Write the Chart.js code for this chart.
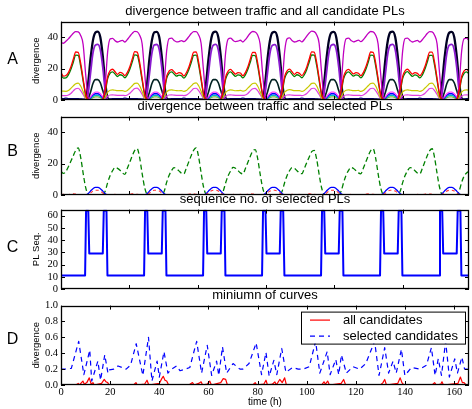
<!DOCTYPE html>
<html><head><meta charset="utf-8">
<script src="https://cdn.jsdelivr.net/npm/chart.js@4.4.1/dist/chart.umd.min.js"></script>
<style>
body{margin:0;background:#fff;width:472px;height:409px;position:relative;overflow:hidden;font-family:"Liberation Sans",Arial,sans-serif}
canvas{position:absolute;left:0}
.lbl{position:absolute;left:2px;width:21px;text-align:center;font-size:16px;line-height:16px;color:#000}
</style></head><body>
<canvas id="cA"></canvas><canvas id="cB"></canvas><canvas id="cC"></canvas><canvas id="cD"></canvas>
<div class="lbl" style="top:51px">A</div>
<div class="lbl" style="top:143px">B</div>
<div class="lbl" style="top:239px">C</div>
<div class="lbl" style="top:331px">D</div>
<script>
// ---------------- DATA (hourly, hour 0 .. 166) ----------------
const titleA = 'divergence between traffic and all candidate PLs';
const titleB = 'divergence between traffic and selected PLs';
const titleC = 'sequence no. of selected PLs';
const titleD = 'miniumn of curves';

// Panel A: divergence between traffic and all candidate PLs
const aMagenta = [
36.6,36.2,37.5,39,40.8,42.6,43.6,43.4,41.2,35.5,17,2,0,0,0,0,0,1,10,31,39,39.3,37.8,37,
37.6,38,37,38.6,40.6,42.5,43.8,43.5,41.3,36,18,2,0,0,0,0,0,1,11,31.5,39.2,39.4,38,37.1,
37.3,37.9,37.2,38.4,40.4,42.4,43.6,43.6,41.5,36.2,18.5,2,0,0,0,0,0,1,10,30.5,38.8,39.5,38.1,37.2,
37.5,38.1,37,38.5,40.5,42.6,43.7,43.4,41.4,35.8,17.5,2,0,0,0,0,0,1.2,10.5,31,39.1,39.6,37.9,37,
37.4,38,37.1,38.6,40.7,42.7,43.9,43.6,41.6,36.3,18,2,0,0,0,0,0,1,10,30.8,39,39.4,38,37.1,
37.6,38.2,37.2,38.5,40.5,42.5,43.7,43.5,41.5,36,17.8,2,0,0,0,0,0,1.1,10.3,31.2,39.2,39.5,38,37,
37.5,38,37,38.4,40.4,42.4,43.6,43.4,41.3,35.9,17.6,2,0,0,0,0,0,1,10,31,39,39.4,38];
const aRed = [
17.4,15.2,15.6,17.5,21,26,30.6,30.4,23.5,13.5,4,0.3,0,0,0,0,0,0.5,6,15,18.7,19.6,18,16.4,
17.6,17.1,15.6,17.6,21.2,26.2,30.8,30.5,24,14,4.2,0.3,0,0,0,0,0,0.5,6.2,15.2,18.5,19.4,18.1,16.6,
17.4,17,15.4,17.4,20.9,25.8,30.5,30.6,24.2,14.2,4,0.3,0,0,0,0,0,0.5,5.8,14.8,18.4,19.5,17.9,16.5,
17.5,17.2,15.5,17.5,21,26,30.4,30.3,23.8,13.8,3.9,0.3,0,0,0,0,0,0.6,6,15.1,18.6,19.7,18,16.4,
17.6,17,15.6,17.6,21.1,26.1,30.7,30.6,24.1,14.1,4.1,0.3,0,0,0,0,0,0.5,6.1,15,18.5,19.5,18.1,16.6,
17.5,17.1,15.5,17.5,21,25.9,30.6,30.4,23.9,13.9,4,0.3,0,0,0,0,0,0.5,6,15.1,18.6,19.6,18,16.5,
17.5,17,15.5,17.4,21,26,30.5,30.5,24,14,4,0.3,0,0,0,0,0,0.5,6,15,18.5,19.5,18];
const aGreen = [
15.9,14,14.1,16,19.4,24.1,28.6,28.4,21.7,12.2,3.5,0.3,0,0,0,0,0,0.4,5,13.6,17.1,18,16.5,15,
16.1,15.6,14.2,16.1,19.6,24.3,28.8,28.5,22.1,12.6,3.7,0.3,0,0,0,0,0,0.4,5.2,13.8,17,17.9,16.6,15.2,
15.9,15.5,14,15.9,19.3,23.9,28.5,28.6,22.3,12.8,3.5,0.3,0,0,0,0,0,0.4,4.8,13.4,16.9,18,16.4,15.1,
16,15.7,14.1,16,19.4,24.1,28.4,28.3,21.9,12.4,3.4,0.3,0,0,0,0,0,0.5,5,13.7,17.1,18.2,16.5,15,
16.1,15.5,14.2,16.1,19.5,24.2,28.7,28.6,22.2,12.7,3.6,0.3,0,0,0,0,0,0.4,5.1,13.6,17,18,16.6,15.2,
16,15.6,14.1,16,19.4,24,28.6,28.4,22,12.5,3.5,0.3,0,0,0,0,0,0.4,5,13.7,17.1,18.1,16.5,15.1,
16,15.5,14.1,15.9,19.4,24.1,28.5,28.5,22.1,12.6,3.5,0.3,0,0,0,0,0,0.4,5,13.6,17,18,16.5];
const aYellow = [
5.8,5.6,5.5,6,7.4,9,10.4,10.7,8.9,5.4,1.5,0.2,0,0,0,0,0,0.2,2,5,6.2,6.5,6.2,6,
6,6,5.5,6.1,7.5,9.1,10.6,10.8,9,5.5,1.5,0.2,0,0,0,0,0,0.2,2.1,5.1,6.3,6.5,6.2,6,
5.9,6,5.5,6,7.5,9,10.5,10.9,9.1,5.6,1.6,0.2,0,0,0,0,0,0.2,1.9,4.9,6.1,6.4,6.2,5.9,
6,6.1,5.6,6,7.6,9.1,10.5,10.7,8.9,5.4,1.4,0.2,0,0,0,0,0,0.2,2,5,6.2,6.6,6.3,6,
6,6,5.5,6.1,7.5,9,10.6,10.8,9,5.5,1.5,0.2,0,0,0,0,0,0.2,2,5,6.2,6.5,6.2,6,
6,6.1,5.5,6,7.5,9.1,10.5,10.8,9,5.5,1.5,0.2,0,0,0,0,0,0.2,2,5.1,6.2,6.5,6.2,6,
6,6,5.5,6,7.5,9,10.5,10.8,9,5.5,1.5,0.2,0,0,0,0,0,0.2,2,5,6.2,6.5,6.2];
const aPinkLow = [
2.9,2.8,2.8,3.2,4.2,5.8,7.2,7.5,6,3.5,1,0.1,0,0,0,0,0,0.1,1,2.6,3.2,3.3,3.1,3,
3,3,2.8,3.2,4.3,5.9,7.3,7.6,6.1,3.6,1,0.1,0,0,0,0,0,0.1,1,2.6,3.2,3.3,3.1,3,
3,3,2.8,3.1,4.2,5.8,7.3,7.5,6,3.5,1,0.1,0,0,0,0,0,0.1,1,2.6,3.2,3.3,3.1,3,
3,3,2.9,3.2,4.2,5.8,7.2,7.4,5.9,3.5,1,0.1,0,0,0,0,0,0.1,1,2.6,3.2,3.3,3.1,3,
3,3,2.8,3.2,4.2,5.8,7.3,7.5,6,3.5,1,0.1,0,0,0,0,0,0.1,1,2.6,3.2,3.3,3.1,3,
3,3,2.8,3.2,4.3,5.9,7.3,7.5,6,3.5,1,0.1,0,0,0,0,0,0.1,1,2.6,3.2,3.3,3.1,3,
3,3,2.8,3.2,4.2,5.8,7.3,7.5,6,3.5,1,0.1,0,0,0,0,0,0.1,1,2.6,3.2,3.3,3.1];
const aBlack = [
0,0,0,0,0,0,0,0,0,0,0.3,10,26,38,43,43.6,40,28,11,1,0,0,0,0,
0,0,0,0,0,0,0,0,0,0,0.3,10,26.5,38.2,43.2,43.5,39.8,27.6,10.8,1,0,0,0,0,
0,0,0,0,0,0,0,0,0,0,0.3,10.2,26,38,43.1,43.6,40,28,11,1,0,0,0,0,
0,0,0,0,0,0,0,0,0,0,0.3,9.8,25.8,37.8,43,43.5,40.2,28.2,11.2,1,0,0,0,0,
0,0,0,0,0,0,0,0,0,0,0.3,10,26,38,43,43.4,39.9,27.9,11,1,0,0,0,0,
0,0,0,0,0,0,0,0,0,0,0.3,10,26.2,38.1,43.2,43.6,40,28,11,1,0,0,0,0,
0,0,0,0,0,0,0,0,0,0,0.3,10,26,38,43,43.5,40,28,11,1,0,0,0];
const aPurple = [
0,0,0,0,0,0,0,0,0,0,0,4,17,30,35,35.5,32,21,6,0.3,0,0,0,0,
0,0,0,0,0,0,0,0,0,0,0,4,17,30,35.2,35.4,32,21,6,0.3,0,0,0,0,
0,0,0,0,0,0,0,0,0,0,0,4,17,30,35,35.5,32,21,6,0.3,0,0,0,0,
0,0,0,0,0,0,0,0,0,0,0,4,17,29.8,34.8,35.3,32,21,6,0.3,0,0,0,0,
0,0,0,0,0,0,0,0,0,0,0,4,17,30,35,35.4,32,21,6,0.3,0,0,0,0,
0,0,0,0,0,0,0,0,0,0,0,4,17,30,35.1,35.5,32,21,6,0.3,0,0,0,0,
0,0,0,0,0,0,0,0,0,0,0,4,17,30,35,35.5,32,21,6,0.3,0,0,0];
const aDark = [
0,0,0,0,0,0,0,0,0,0,0,1,5,10.5,13,13,11,6,1.5,0,0,0,0,0,
0,0,0,0,0,0,0,0,0,0,0,1,5,10.5,13,13,11,6,1.5,0,0,0,0,0,
0,0,0,0,0,0,0,0,0,0,0,1,5,10.5,13,13,11,6,1.5,0,0,0,0,0,
0,0,0,0,0,0,0,0,0,0,0,1,5,10.5,13,13,11,6,1.5,0,0,0,0,0,
0,0,0,0,0,0,0,0,0,0,0,1,5,10.5,13,13,11,6,1.5,0,0,0,0,0,
0,0,0,0,0,0,0,0,0,0,0,1,5,10.5,13,13,11,6,1.5,0,0,0,0,0,
0,0,0,0,0,0,0,0,0,0,0,1,5,10.5,13,13,11,6,1.5,0,0,0,0];
const aPink = [
0,0,0,0,0,0,0,0,0,0,0,0.5,2,4,5,5,4,2,0.5,0,0,0,0,0,
0,0,0,0,0,0,0,0,0,0,0,0.5,2,4,5,5,4,2,0.5,0,0,0,0,0,
0,0,0,0,0,0,0,0,0,0,0,0.5,2,4,5,5,4,2,0.5,0,0,0,0,0,
0,0,0,0,0,0,0,0,0,0,0,0.5,2,4,5,5,4,2,0.5,0,0,0,0,0,
0,0,0,0,0,0,0,0,0,0,0,0.5,2,4,5,5,4,2,0.5,0,0,0,0,0,
0,0,0,0,0,0,0,0,0,0,0,0.5,2,4,5,5,4,2,0.5,0,0,0,0,0,
0,0,0,0,0,0,0,0,0,0,0,0.5,2,4,5,5,4,2,0.5,0,0,0,0];
const aBlue = [
0,0,0,0,0,0,0,0,0,0,0,0.2,1.5,3,4,4,3,1.5,0.3,0,0,0,0,0,
0,0,0,0,0,0,0,0,0,0,0,0.2,1.5,3,4,4,3,1.5,0.3,0,0,0,0,0,
0,0,0,0,0,0,0,0,0,0,0,0.2,1.5,3,4,4,3,1.5,0.3,0,0,0,0,0,
0,0,0,0,0,0,0,0,0,0,0,0.2,1.5,3,4,4,3,1.5,0.3,0,0,0,0,0,
0,0,0,0,0,0,0,0,0,0,0,0.2,1.5,3,4,4,3,1.5,0.3,0,0,0,0,0,
0,0,0,0,0,0,0,0,0,0,0,0.2,1.5,3,4,4,3,1.5,0.3,0,0,0,0,0,
0,0,0,0,0,0,0,0,0,0,0,0.2,1.5,3,4,4,3,1.5,0.3,0,0,0,0];
const aCyan = [
0,0,0,0,0,0,0,0,0,0,0,0.1,1,2.2,3,3,2.2,1,0.2,0,0,0,0,0,
0,0,0,0,0,0,0,0,0,0,0,0.1,1,2.2,3,3,2.2,1,0.2,0,0,0,0,0,
0,0,0,0,0,0,0,0,0,0,0,0.1,1,2.2,3,3,2.2,1,0.2,0,0,0,0,0,
0,0,0,0,0,0,0,0,0,0,0,0.1,1,2.2,3,3,2.2,1,0.2,0,0,0,0,0,
0,0,0,0,0,0,0,0,0,0,0,0.1,1,2.2,3,3,2.2,1,0.2,0,0,0,0,0,
0,0,0,0,0,0,0,0,0,0,0,0.1,1,2.2,3,3,2.2,1,0.2,0,0,0,0,0,
0,0,0,0,0,0,0,0,0,0,0,0.1,1,2.2,3,3,2.2,1,0.2,0,0,0,0];
const aOlive = [
0,0,0,0,0,0,0,0,0,0,0,0,0.6,1.5,2,2,1.5,0.6,0,0,0,0,0,0,
0,0,0,0,0,0,0,0,0,0,0,0,0.6,1.5,2,2,1.5,0.6,0,0,0,0,0,0,
0,0,0,0,0,0,0,0,0,0,0,0,0.6,1.5,2,2,1.5,0.6,0,0,0,0,0,0,
0,0,0,0,0,0,0,0,0,0,0,0,0.6,1.5,2,2,1.5,0.6,0,0,0,0,0,0,
0,0,0,0,0,0,0,0,0,0,0,0,0.6,1.5,2,2,1.5,0.6,0,0,0,0,0,0,
0,0,0,0,0,0,0,0,0,0,0,0,0.6,1.5,2,2,1.5,0.6,0,0,0,0,0,0,
0,0,0,0,0,0,0,0,0,0,0,0,0.6,1.5,2,2,1.5,0.6,0,0,0,0,0];
const aNavy = [
0.8,0.9,1.2,0.9,0.8,0.8,0.8,0.8,0.7,0.6,0.4,0.3,0.3,0.3,0.3,0.3,0.3,0.3,0.4,0.6,0.7,0.8,0.8,0.8,
0.8,0.9,1.2,0.9,0.8,0.8,0.8,0.8,0.7,0.6,0.4,0.3,0.3,0.3,0.3,0.3,0.3,0.3,0.4,0.6,0.7,0.8,0.8,0.8,
0.8,0.9,1.2,0.9,0.8,0.8,0.8,0.8,0.7,0.6,0.4,0.3,0.3,0.3,0.3,0.3,0.3,0.3,0.4,0.6,0.7,0.8,0.8,0.8,
0.8,0.9,1.2,0.9,0.8,0.8,0.8,0.8,0.7,0.6,0.4,0.3,0.3,0.3,0.3,0.3,0.3,0.3,0.4,0.6,0.7,0.8,0.8,0.8,
0.8,0.9,1.2,0.9,0.8,0.8,0.8,0.8,0.7,0.6,0.4,0.3,0.3,0.3,0.3,0.3,0.3,0.3,0.4,0.6,0.7,0.8,0.8,0.8,
0.8,0.9,1.2,0.9,0.8,0.8,0.8,0.8,0.7,0.6,0.4,0.3,0.3,0.3,0.3,0.3,0.3,0.3,0.4,0.6,0.7,0.8,0.8,0.8,
0.8,0.9,1.2,0.9,0.8,0.8,0.8,0.8,0.7,0.6,0.4,0.3,0.3,0.3,0.3,0.3,0.3,0.3,0.4,0.6,0.7,0.8,0.8];

// Panel B: divergence between traffic and selected PLs
const bGreen = [
15.2,13.8,15,18,21.5,25,28.5,30,24,14,5,0.5,0,0,0,0,0,0,2.5,8,12.5,15.5,17.5,17,
15.8,14,13.2,17,21,25,28.4,29.6,23.8,13.8,5,0.5,0,0,0,0,0,0,2.4,8.2,12.6,15.6,17.4,16.8,
15.4,13.9,13.5,17.2,21.2,25.2,28.6,30,24.2,14.2,5.1,0.5,0,0,0,0,0,0,2.5,7.8,12.3,15.3,17.6,17.1,
15.6,14.1,13.4,16.8,20.8,24.6,28,29,23.4,13.6,4.9,0.5,0,0,0,0,0,0,2.6,8,12.5,15.5,17.5,17,
15.5,14,13.6,16.9,20.7,24.3,27.6,28.5,23,13.4,4.8,0.5,0,0,0,0,0,0,2.5,8.1,12.7,15.7,17.6,16.9,
15.6,14.1,13.5,17,21,24.9,28.3,29.5,23.7,13.8,5,0.5,0,0,0,0,0,0,2.4,7.9,12.4,15.4,17.4,17,
15.5,14,13.5,17,21,25,28.3,29.5,23.8,13.9,5,0.5,0,0,0,0,0,0,2.5,8,12,14,15];
const bBlue = [
0,0,0,0,0,0,0,0,0,0,0,0.8,2.5,4,4.8,4.8,4,2.5,0.8,0,0,0,0,0,
0,0,0,0,0,0,0,0,0,0,0,0.8,2.5,4,4.8,4.8,4,2.5,0.8,0,0,0,0,0,
0,0,0,0,0,0,0,0,0,0,0,0.8,2.5,4,4.8,4.8,4,2.5,0.8,0,0,0,0,0,
0,0,0,0,0,0,0,0,0,0,0,0.8,2.5,4,4.8,4.8,4,2.5,0.8,0,0,0,0,0,
0,0,0,0,0,0,0,0,0,0,0,0.8,2.5,4,4.8,4.8,4,2.5,0.8,0,0,0,0,0,
0,0,0,0,0,0,0,0,0,0,0,0.8,2.5,4,4.8,4.8,4,2.5,0.8,0,0,0,0,0,
0,0,0,0,0,0,0,0,0,0,0,0.8,2.5,4,4.8,4.8,4,2.5,0.8,0,0,0,0];
const bRed = [
0.3,0.4,0.3,0.3,0.5,0.8,0.6,0.4,0.3,0.2,0.1,0.3,1.2,2.5,3,3,2.5,1.2,0.3,0.2,0.3,0.3,0.4,0.3,
0.3,0.4,0.3,0.3,0.5,0.8,0.6,0.4,0.3,0.2,0.1,0.3,1.2,2.5,3,3,2.5,1.2,0.3,0.2,0.3,0.3,0.4,0.3,
0.3,0.4,0.3,0.3,0.5,0.8,0.6,0.4,0.3,0.2,0.1,0.3,1.2,2.5,3,3,2.5,1.2,0.3,0.2,0.3,0.3,0.4,0.3,
0.3,0.4,0.3,0.3,0.5,0.8,0.6,0.4,0.3,0.2,0.1,0.3,1.2,2.5,3,3,2.5,1.2,0.3,0.2,0.3,0.3,0.4,0.3,
0.3,0.4,0.3,0.3,0.5,0.8,0.6,0.4,0.3,0.2,0.1,0.3,1.2,2.5,3,3,2.5,1.2,0.3,0.2,0.3,0.3,0.4,0.3,
0.3,0.4,0.3,0.3,0.5,0.8,0.6,0.4,0.3,0.2,0.1,0.3,1.2,2.5,3,3,2.5,1.2,0.3,0.2,0.3,0.3,0.4,0.3,
0.3,0.4,0.3,0.3,0.5,0.8,0.6,0.4,0.3,0.2,0.1,0.3,1.2,2.5,3,3,2.5,1.2,0.3,0.2,0.3,0.3,0.4];

// Panel C: sequence no. of selected PLs (time in hours, PL number)
const cTime = [0,
 9.8,10.2,11.1,11.5,17.0,17.4,18.5,18.9,
 33.8,34.2,35.1,35.5,41.0,41.4,42.5,42.9,
 57.8,58.2,59.1,59.5,65.0,65.4,66.5,66.9,
 81.8,82.2,83.2,83.6,89.0,89.4,90.4,90.9,
 105.8,106.2,107.1,107.5,113.0,113.4,114.5,114.9,
 129.8,130.2,131.1,131.5,137.0,137.4,138.5,138.9,
 153.8,154.2,155.1,155.5,161.0,161.4,162.5,162.9,
 166];
const cSeq = [11,
 11,64,64,29,29,64,64,11,
 11,64,64,29,29,64,64,11,
 11,64,64,29,29,64,64,11,
 11,64,64,29,29,64,64,11,
 11,64,64,29,29,64,64,11,
 11,64,64,29,29,64,64,11,
 11,64,64,29,29,64,64,11,
 11];

// Panel D: minimum of curves
const dSelTime = [0,1.6,4.2,7.2,9.3,11.7,12.5,15,16.1,17.8,19.1,19.7,21.5,23.2,26.5,28.3,30.6,33.3,35.6,37,39.1,40,41.9,43.5,45,47,48.4,50.5,52.4,55.2,57.2,59.5,61.3,63.3,64.2,65.7,67.4,70,72.8,74,76.5,79.4,81.6,83.4,84.7,86.6,87.8,89.8,91.5,94.2,96.5,98.5,101,103.6,105.3,108.3,109.5,111.8,113,114.1,116.1,118.8,121.5,124,127.6,129.4,131.7,133.3,135.1,136.4,138.5,139.9,142.6,146,148.7,150.7,152.2,153.5,154.8,156.5,158,160.2,161.3,163.1,164.2,166];
const dSelVal = [0.2,0.2,0.21,0.55,0.13,0.44,0.05,0.3,0.06,0.38,0.15,0.19,0.2,0.24,0.2,0.25,0.52,0.12,0.6,0.05,0.3,0.1,0.42,0.15,0.2,0.24,0.18,0.2,0.22,0.55,0.15,0.5,0.12,0.3,0.12,0.48,0.15,0.27,0.2,0.2,0.27,0.53,0.13,0.41,0.11,0.31,0.13,0.46,0.16,0.22,0.2,0.2,0.23,0.55,0.15,0.42,0.13,0.32,0.13,0.38,0.15,0.23,0.2,0.27,0.55,0.12,0.47,0.15,0.3,0.15,0.45,0.12,0.22,0.2,0.25,0.47,0.12,0.33,0.12,0.55,0.1,0.33,0.15,0.35,0.2,0.2];
const dAllTime = [0,6,7,7.5,8.9,9.5,10.5,11.5,12.3,13,13.5,16.5,17.6,18.3,19,19.6,29.5,30.5,31,34,35,35.7,40,41,41.6,42.3,43,43.8,52,53.5,54.2,56,57,57.6,59.5,60.5,61.2,65,66,67,67.7,78,79,79.6,82.5,83.4,84,86,87,87.6,89,90,91,91.7,106,107,107.6,108.5,109.2,114,115,115.8,130,131,131.7,132.4,137,138,138.7,139.5,151,152,152.7,154.5,155,155.6,161.5,162.5,163.3,164,164.8,166];
const dAllVal = [0,0,0.02,0,0.05,0.01,0.03,0.09,0.01,0.03,0,0.02,0.07,0.04,0.03,0,0,0.03,0,0.01,0.06,0,0.02,0.08,0.11,0.06,0.05,0,0,0.03,0,0.02,0.04,0,0.01,0.05,0,0.03,0.08,0.07,0,0,0.03,0,0.01,0.06,0,0.01,0.04,0,0.07,0.03,0.09,0,0,0.04,0.01,0.05,0,0.02,0.07,0,0,0.03,0.07,0,0.02,0.09,0.03,0,0,0.03,0,0.01,0.04,0,0.02,0.1,0.03,0.03,0,0];
const dLabels = ['all candidates', 'selected candidates'];

const xMax = 166;
const topTickStep = 27.8;   // tick spacing on the upper three panels

// ---------------- helpers ----------------
const SANS = '"Liberation Sans", Arial, sans-serif';
const SERIF = '"Liberation Serif", "Times New Roman", serif';
const hours = aMagenta.map((_, i) => i);
const pts = (xs, ys) => xs.map((x, i) => ({x, y: ys[i]}));

function line(label, xs, ys, color, width, dash, smooth) {
  return {label, data: pts(xs, ys), borderColor: color, backgroundColor: color, borderWidth: width,
    borderDash: dash || [], pointRadius: 0, fill: false,
    cubicInterpolationMode: smooth ? 'monotone' : 'default', tension: 0, borderJoinStyle: 'round'};
}

function yScale(min, max, step, title, fmt) {
  return {type: 'linear', min, max, position: 'left',
    grid: {display: false, drawTicks: false}, border: {display: false},
    ticks: {stepSize: step, includeBounds: false, autoSkip: false, padding: 3, color: '#000',
      font: {family: SERIF, size: 10.5}, callback: fmt || (v => v)},
    title: {display: true, text: title, color: '#000', font: {family: SANS, size: 9.5}, padding: {top: 31, bottom: 0}},
    afterFit(s) { s.width = 61; s.paddingTop = 0; s.paddingBottom = 0; }};
}

const framePlugin = {
  id: 'frame',
  afterDraw(chart, args, opts) {
    const {ctx, chartArea: a, scales} = chart;
    ctx.save();
    ctx.strokeStyle = '#000';
    ctx.lineWidth = 1;
    ctx.beginPath();
    const L = 4;
    scales.y.ticks.forEach(t => {
      const py = Math.round(scales.y.getPixelForValue(t.value)) + 0.5;
      ctx.moveTo(a.left, py); ctx.lineTo(a.left + L, py);
      ctx.moveTo(a.right, py); ctx.lineTo(a.right - L, py);
    });
    let xs;
    if (opts.step) { xs = []; for (let v = 0; v <= xMax; v += opts.step) xs.push(v); }
    else xs = scales.x.ticks.map(t => t.value);
    xs.forEach(v => {
      const px = Math.round(scales.x.getPixelForValue(v)) + 0.5;
      ctx.moveTo(px, a.top); ctx.lineTo(px, a.top + L);
      ctx.moveTo(px, a.bottom); ctx.lineTo(px, a.bottom - L);
    });
    ctx.stroke();
    ctx.lineWidth = 1.3;
    ctx.strokeRect(Math.round(a.left) + 0.5, Math.round(a.top) + 0.5, Math.round(a.right - a.left) - 1, Math.round(a.bottom - a.top) - 1);
    ctx.restore();
  }
};

const boxLegend = {
  id: 'boxLegend',
  afterDatasetsDraw(chart, args, opts) {
    if (!opts.show) return;
    const {ctx, chartArea: a} = chart;
    const x0 = a.right - 168, y0 = a.top + 6, w = 164, h = 32;
    ctx.save();
    ctx.fillStyle = '#fff';
    ctx.fillRect(x0, y0, w, h);
    ctx.strokeStyle = '#000'; ctx.lineWidth = 1;
    ctx.strokeRect(x0 + 0.5, y0 + 0.5, w, h);
    ctx.font = '13px ' + SANS;
    ctx.textBaseline = 'middle';
    chart.data.datasets.slice().reverse().forEach((d, i) => {
      const yy = y0 + 8.5 + i * 16;
      ctx.strokeStyle = d.borderColor; ctx.lineWidth = d.borderWidth;
      ctx.setLineDash(d.borderDash || []);
      ctx.beginPath(); ctx.moveTo(x0 + 9, yy); ctx.lineTo(x0 + 29, yy); ctx.stroke();
      ctx.setLineDash([]);
      ctx.fillStyle = '#000';
      ctx.fillText(d.label, x0 + 42, yy + 0.5);
    });
    ctx.restore();
  }
};

function makeChart(id, top, height, padB, title, datasets, yOpts, xOpts, plugOpts) {
  const cv = document.getElementById(id);
  cv.width = 472; cv.height = height;
  cv.style.top = top + 'px';
  return new Chart(cv, {
    type: 'line',
    data: {datasets},
    options: {
      responsive: false, animation: false, events: [],
      layout: {padding: {left: 0, right: 3, top: 0, bottom: padB}},
      plugins: {
        legend: {display: false}, tooltip: {enabled: false},
        title: {display: true, fullSize: false, text: title, color: '#000', font: {family: SANS, size: 13, weight: 'normal'}, padding: {top: 3, bottom: 2}},
        frame: plugOpts.frame || {}, boxLegend: plugOpts.legend || {}
      },
      scales: {x: xOpts, y: yOpts}
    },
    plugins: [framePlugin, boxLegend]
  });
}

const xHidden = {type: 'linear', min: 0, max: xMax, display: false};

// Panel A
makeChart('cA', 1, 106, 7, titleA, [
  line('c1', hours, aRed, '#ff0000', 1.3, null, true),
  line('c2', hours, aGreen, '#008000', 1.3, null, true),
  line('c3', hours, aMagenta, '#c000c0', 1.3, null, true),
  line('c4', hours, aYellow, '#c8c800', 1.2, null, true),
  line('c5', hours, aPinkLow, '#e040e0', 1.2, null, true),
  line('c6', hours, aPurple, '#8a1bd0', 1.8, null, true),
  line('c7', hours, aBlack, '#000022', 2.3, null, true),
  line('c8', hours, aDark, '#002020', 1.6, null, true),
  line('c9', hours, aPink, '#ff40ff', 1.3, null, true),
  line('c10', hours, aBlue, '#0000ff', 1.3, null, true),
  line('c11', hours, aCyan, '#00bfbf', 1.3, null, true),
  line('c12', hours, aOlive, '#80b040', 1.3, null, true),
  line('c13', hours, aNavy, '#000080', 1.3, null, true)
], yScale(0, 50, 20, 'divergence'), xHidden, {frame: {step: topTickStep}});

// Panel B
makeChart('cB', 96, 106, 7, titleB, [
  line('s1', hours, bRed, '#ff3030', 1.1, [3, 3], true),
  line('s2', hours, bBlue, '#0000ff', 1.3, null, true),
  line('s3', hours, bGreen, '#008000', 1.3, [5, 3], true)
], yScale(0, 50, 20, 'divergence'), xHidden, {frame: {step: topTickStep}});

// Panel C
makeChart('cC', 189, 107, 7, titleC, [
  line('PL', cTime, cSeq, '#0000ff', 2, null, false)
], yScale(0, 65, 10, 'PL Seq.'), xHidden, {frame: {step: topTickStep}});

// Panel D
makeChart('cD', 285, 123, 0, titleD, [
  line(dLabels[0], dAllTime, dAllVal, '#ff0000', 1.2, null, false),
  line(dLabels[1], dSelTime, dSelVal, '#0000ff', 1.2, [5, 4], false)
].reverse(), yScale(0, 1, 0.2, 'divergence', v => v.toFixed(1)), {
  type: 'linear', min: 0, max: xMax,
  grid: {display: false, drawTicks: false}, border: {display: false},
  ticks: {stepSize: 20, includeBounds: false, autoSkip: false, maxRotation: 0, padding: 1, color: '#000', font: {family: SERIF, size: 10.5}},
  title: {display: true, text: 'time (h)', color: '#000', font: {family: SANS, size: 10}, padding: {top: 0, bottom: 0}},
  afterFit(s) { s.height = 23; s.paddingLeft = 0; s.paddingRight = 0; }
}, {legend: {show: true}});
</script>
</body></html>
